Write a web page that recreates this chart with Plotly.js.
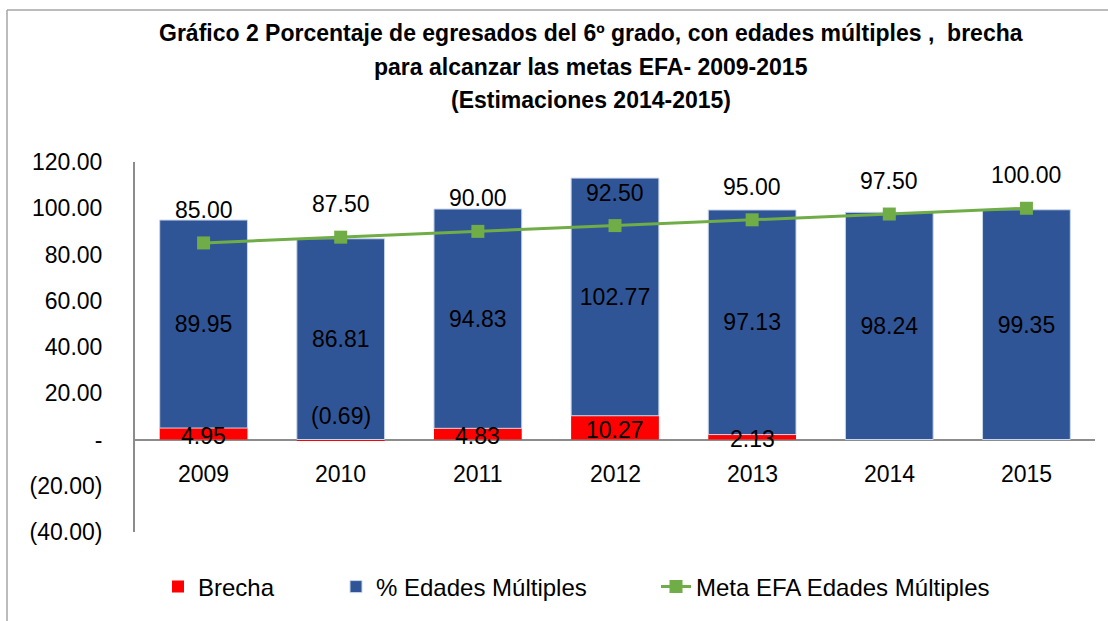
<!DOCTYPE html>
<html><head><meta charset="utf-8">
<script src="https://cdn.plot.ly/plotly-3.0.1.min.js"></script>
<style>html,body{margin:0;padding:0;background:#fff}#chart{width:1108px;height:621px}</style>
</head><body><div id="chart"></div>
<script>
const years = ['2009','2010','2011','2012','2013','2014','2015'];
const brecha = [4.95, -0.69, 4.83, 10.27, 2.13, null, null];
const edadesMultiples = [89.95, 86.81, 94.83, 102.77, 97.13, 98.24, 99.35];
const metaEFA = [85.00, 87.50, 90.00, 92.50, 95.00, 97.50, 100.00];
const yTickVals = [-40, -20, 0, 20, 40, 60, 80, 100, 120];
const yTickText = ['(40.00)', '(20.00)', '-', '20.00', '40.00', '60.00', '80.00', '100.00', '120.00'];
const seriesNames = ['Brecha', '% Edades Múltiples', 'Meta EFA Edades Múltiples'];
const titleLines = [
  'Gráfico 2 Porcentaje de egresados del 6º grado, con edades múltiples ,  brecha',
  'para alcanzar las metas EFA- 2009-2015',
  '(Estimaciones 2014-2015)'
];

const FONT = 'Liberation Sans, Arial, sans-serif';
const FS = 23;
function fmt(v) { return v < 0 ? '(' + Math.abs(v).toFixed(2) + ')' : v.toFixed(2); }

const traces = [
  {
    type: 'bar', name: seriesNames[0], x: years, y: brecha, legend: 'legend',
    marker: {color: '#FF0000'}, hoverinfo: 'skip'
  },
  {
    type: 'bar', name: seriesNames[1], x: years, y: edadesMultiples, legend: 'legend2',
    marker: {color: '#2F5597', line: {color: '#C9D6EA', width: 1}},
    texttemplate: '%{y:.2f}', textposition: 'inside', insidetextanchor: 'middle',
    textangle: 0, constraintext: 'none',
    textfont: {family: FONT, size: FS, color: '#000'}, hoverinfo: 'skip'
  },
  {
    type: 'scatter', mode: 'lines+markers', name: seriesNames[2], x: years, y: metaEFA,
    legend: 'legend3',
    line: {color: '#70AD47', width: 3},
    marker: {symbol: 'square', size: 13, color: '#70AD47'}, hoverinfo: 'skip'
  }
];

// on a category axis, annotations use the category index
const annotations = [];
years.forEach((yr, i) => annotations.push({
  x: i, y: 0, xref: 'x', yref: 'y', text: yr, showarrow: false,
  yanchor: 'middle', yshift: -34, font: {family: FONT, size: FS, color: '#000'}
}));
metaEFA.forEach((v, i) => annotations.push({
  x: i, y: v, xref: 'x', yref: 'y', text: fmt(v), showarrow: false,
  yanchor: 'middle', yshift: 33, font: {family: FONT, size: FS, color: '#000'}
}));
brecha.forEach((v, i) => {
  if (v === null) return;
  annotations.push({
    x: i, y: v >= 0 ? v / 2 : 0, xref: 'x', yref: 'y', text: fmt(v), showarrow: false,
    yanchor: 'middle', yshift: v >= 0 ? -2 : 24, font: {family: FONT, size: FS, color: '#000'}
  });
});
const titleY = [1.3486, 1.2568, 1.1676];
titleLines.forEach((t, i) => annotations.push({
  x: 0.475, y: titleY[i], xref: 'paper', yref: 'paper', xanchor: 'center', yanchor: 'middle',
  text: '<b>' + t + '</b>', showarrow: false, font: {family: FONT, size: 23, color: '#000'}
}));

const L = 135, W = 960;
const px = (p) => (p - L) / W;
const bx = px(7), by = (532 - 10) / 370;
const legY = (532 - 587) / 370;
const legendBase = {orientation: 'h', xanchor: 'left', y: legY, yanchor: 'middle',
                    bgcolor: 'rgba(0,0,0,0)', font: {family: FONT, size: 24, color: '#000'}};
const layout = {
  width: 1108, height: 621,
  margin: {l: L, r: 1108 - L - W, t: 162, b: 89},
  paper_bgcolor: '#fff', plot_bgcolor: '#fff',
  barmode: 'relative', bargap: 0.36,
  font: {family: FONT, size: FS, color: '#000'},
  showlegend: true,
  legend: Object.assign({}, legendBase, {x: px(158)}),
  legend2: Object.assign({}, legendBase, {x: px(336)}),
  legend3: Object.assign({}, legendBase, {x: px(656)}),
  xaxis: {type: 'category', range: [-0.5, 6.5], showline: false, showgrid: false, zeroline: false,
          showticklabels: false, ticks: ''},
  yaxis: {range: [-40, 120], tickmode: 'array', tickvals: yTickVals, ticktext: yTickText,
          showline: true, linecolor: '#8C8C8C', linewidth: 2, showgrid: false,
          zeroline: true, zerolinecolor: '#8C8C8C', zerolinewidth: 2,
          ticks: '', ticklabelstandoff: 26, tickfont: {family: FONT, size: FS, color: '#000'}},
  annotations: annotations,
  shapes: [
    {type: 'line', xref: 'paper', yref: 'paper', x0: bx, x1: 1.1, y0: by, y1: by,
     line: {color: '#A6A6A6', width: 1.5}},
    {type: 'line', xref: 'paper', yref: 'paper', x0: bx, x1: bx, y0: by, y1: -0.3,
     line: {color: '#A6A6A6', width: 1.5}}
  ]
};

Plotly.newPlot('chart', traces, layout, {displayModeBar: false, staticPlot: true});
</script>
</body></html>
